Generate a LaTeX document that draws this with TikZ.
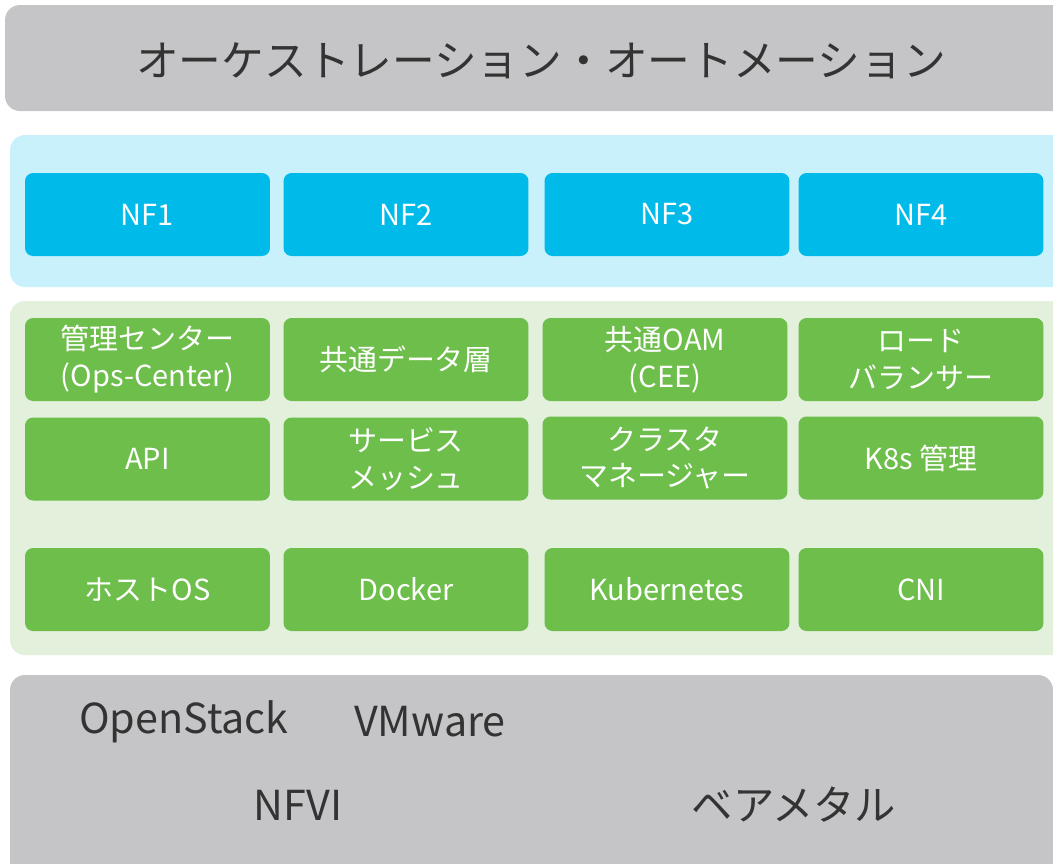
\documentclass[tikz,border=0pt]{standalone}
\usepackage{fontspec}
\setmainfont{Noto Sans CJK JP}
\usetikzlibrary{positioning}
\definecolor{layergray}{HTML}{C5C5C7}
\definecolor{nfpale}{HTML}{C8F1FC}
\definecolor{nfblue}{HTML}{00BBEA}
\definecolor{cnpale}{HTML}{E2F0DC}
\definecolor{cngreen}{HTML}{6DBE4B}
\definecolor{inkgray}{HTML}{333333}
\tikzset{layer/.style={fill=#1, rounded corners=0.3cm, inner sep=0pt},
nfbox/.style={fill=nfblue, text=white, rounded corners=0.16cm, minimum width=4.9cm, minimum height=1.66cm,
  inner sep=0pt, align=center, font=\fontsize{16.5}{21}\selectfont},
cnbox/.style={nfbox, fill=cngreen},
bigtext/.style={text=inkgray, inner sep=0pt, font=\fontsize{23.5}{28}\selectfont}}

\begin{document}
\begin{tikzpicture}[x=0.02cm, y=-0.02cm]
\useasboundingbox (0,0) rectangle (1053,863);
\clip (0,0) rectangle (1053,863);

% layers
\fill[layer=layergray] (5,5) rectangle (1075,111);
\fill[layer=nfpale] (10,135) rectangle (1075,287);
\fill[layer=cnpale] (10,301) rectangle (1075,655);
\fill[layer=layergray] (10,675) rectangle (1053,900);

\node[text=inkgray, font=\fontsize{24.3}{29}\selectfont] (orch) at (541,61) {オーケストレーション・オートメーション};

% network functions
\foreach \x [count=\i] in {147.5,406,667,921}
    \node[nfbox] (nf\i) at (\x,214.5) {NF\i};

% cloud native layer
\node[cnbox] (opsc) at (147.5,359.5) {管理センター\\(Ops-Center)};
\node[cnbox] (cdl)  at (406,359.5) {共通データ層};
\node[cnbox] (cee)  at (665,359.5) {共通OAM\\(CEE)};
\node[cnbox] (lb)   at (921,359.5) {ロード\\バランサー};

\node[cnbox] (api)  at (147.5,459) {API};
\node[cnbox] (mesh) at (406,459) {サービス\\メッシュ};
\node[cnbox] (clm)  at (665,458) {クラスタ\\マネージャー};
\node[cnbox] (k8sm) at (921,458) {K8s 管理};

\node[cnbox] (hos)  at (147.5,589.5) {ホストOS};
\node[cnbox] (dock) at (406,589.5) {Docker};
\node[cnbox] (kube) at (667,589.5) {Kubernetes};
\node[cnbox] (cni)  at (921,589.5) {CNI};

% infrastructure
\node[bigtext] (ostk) at (184,722) {OpenStack};
\node[bigtext] (vmw)  at (430,722) {VMware};
\node[bigtext] (nfvi) at (298,805) {NFVI};
\node[bigtext] (bare) at (794,805) {ベアメタル};

\end{tikzpicture}
\end{document}
